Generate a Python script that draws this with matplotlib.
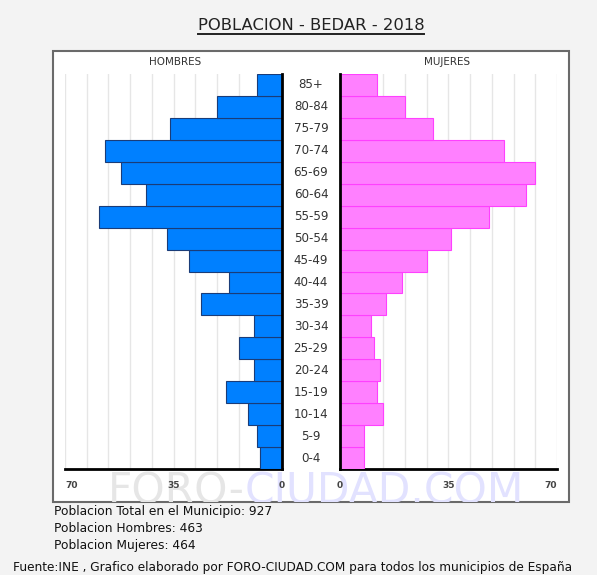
import matplotlib
matplotlib.use("Agg")
import matplotlib.pyplot as plt
from matplotlib.patches import Rectangle
from matplotlib.transforms import blended_transform_factory

# ---------------- DATA ----------------
grupos = ["0-4", "5-9", "10-14", "15-19", "20-24", "25-29", "30-34", "35-39",
          "40-44", "45-49", "50-54", "55-59", "60-64", "65-69", "70-74",
          "75-79", "80-84", "85+"]
hombres = [7, 8, 11, 18, 9, 14, 9, 26, 17, 30, 37, 59, 44, 52, 57, 36, 21, 8]
mujeres = [8, 8, 14, 12, 13, 11, 10, 15, 20, 28, 36, 48, 60, 63, 53, 30, 21, 12]
ticks = [0, 35, 70]
grid_x = list(range(7, 71, 7))

titulo = "POBLACION - BEDAR - 2018"
resumen = ["Poblacion Total en el Municipio: 927",
           "Poblacion Hombres: 463",
           "Poblacion Mujeres: 464"]
fuente = "Fuente:INE , Grafico elaborado por FORO-CIUDAD.COM para todos los municipios de España"

W, H = 597, 575
fig = plt.figure(figsize=(W / 100, H / 100), dpi=100)
fig.patch.set_facecolor("#f3f3f3")


def fx(px):
    return px / W


def fy(py):
    return 1 - py / H


# white frame
caja = Rectangle((fx(53), fy(502)), fx(569) - fx(53), fy(51) - fy(502),
                 transform=fig.transFigure, facecolor="white",
                 edgecolor="#6a6a6a", linewidth=1.5, zorder=-2)
fig.patches.append(caja)

# ---------------- AXES ----------------
ax_h = fig.add_axes([fx(65), fy(469), fx(282) - fx(65), fy(74) - fy(469)])
ax_m = fig.add_axes([fx(339.5), fy(469), fx(557) - fx(339.5), fy(74) - fy(469)])

y = list(range(len(grupos)))
ax_h.barh(y, hombres, height=1.0, color="#0080ff", edgecolor="#1a3c78",
          linewidth=0.8, zorder=3)
ax_m.barh(y, mujeres, height=1.0, color="#ff80ff", edgecolor="#ff40ff",
          linewidth=0.8, zorder=3)

ax_h.set_xlim(70, 0)
ax_m.set_xlim(0, 70)

for ax, lado in ((ax_h, "right"), (ax_m, "left")):
    ax.set_facecolor("none")
    ax.set_ylim(-0.5, len(grupos) - 0.5)
    for g in grid_x:
        ax.axvline(g, color="#e6e6e6", linewidth=1, zorder=1)
    for s in ax.spines.values():
        s.set_visible(False)
    ax.spines["bottom"].set_visible(True)
    ax.spines["bottom"].set_linewidth(2)
    ax.spines[lado].set_visible(True)
    ax.spines[lado].set_linewidth(2)
    ax.spines[lado].set_zorder(4)
    ax.set_yticks([])
    ax.set_xticks(ticks)
    ax.set_xticklabels([str(t) for t in ticks], fontsize=6.5,
                       color="#444444", fontweight="bold")
    ax.tick_params(axis="x", length=0, pad=9)

# outer "70" labels sit inside the axis ends
ax_h.get_xticklabels()[2].set_ha("left")
ax_m.get_xticklabels()[2].set_ha("right")

# age group labels in the middle
tr = blended_transform_factory(fig.transFigure, ax_m.transData)
for i, g in enumerate(grupos):
    fig.text(fx(311), i, g, transform=tr, ha="center", va="center",
             fontsize=8.6, color="#333333")

fig.text(fx(175), fy(62), "HOMBRES", ha="center", va="center",
         fontsize=7.5, color="#333333")
fig.text(fx(447), fy(62), "MUJERES", ha="center", va="center",
         fontsize=7.5, color="#333333")

# ---------------- TITLE ----------------
t = fig.text(fx(311), fy(25), titulo, ha="center", va="center", fontsize=11.8,
             color="#222222")
fig.canvas.draw()
bb = t.get_window_extent()
fig.add_artist(plt.Line2D([bb.x0 / W, bb.x1 / W], [fy(33.5), fy(33.5)],
                          transform=fig.transFigure, color="#222222",
                          linewidth=1.4))

# ---------------- WATERMARK ----------------
w1 = fig.text(fx(108), fy(504), "FORO-", ha="left", va="baseline",
              fontsize=30.5, color="#e6e6e6", zorder=-1)
fig.canvas.draw()
b1 = w1.get_window_extent()
w2 = fig.text(b1.x1 / W, fy(504), "CIUDAD.COM", ha="left", va="baseline",
              fontsize=30.5, color="#e2e2ff", zorder=-1)
w1.set_clip_path(caja)
w2.set_clip_path(caja)

# ---------------- SUMMARY ----------------
for i, linea in enumerate(resumen):
    fig.text(fx(54), fy(511 + 17 * i), linea, ha="left", va="center",
             fontsize=8.8, color="#111111")

fig.text(fx(13), fy(567), fuente, ha="left", va="center", fontsize=8.7,
         color="#111111")

fig.savefig("out.png", dpi=100, facecolor=fig.get_facecolor())
